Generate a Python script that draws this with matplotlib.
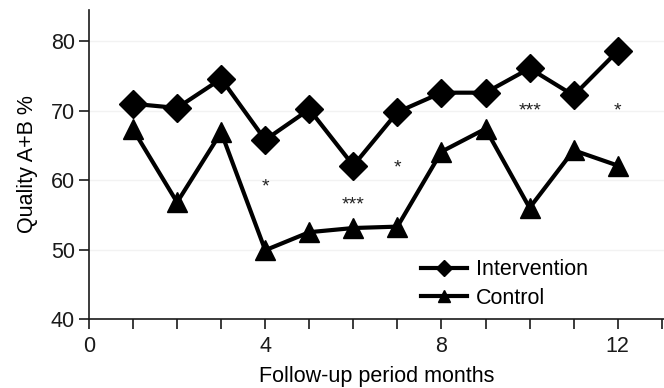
import numpy as np
import matplotlib
matplotlib.use("Agg")
import matplotlib.pyplot as plt

plt.rcParams['font.family'] = ['Liberation Sans', 'DejaVu Sans']

months = [1, 2, 3, 4, 5, 6, 7, 8, 9, 10, 11, 12]
intervention = [71.0, 70.4, 74.6, 65.8, 70.2, 62.1, 69.8, 72.6, 72.6, 76.1, 72.2, 78.6]
control = [67.3, 56.8, 66.9, 49.9, 52.5, 53.1, 53.3, 64.1, 67.4, 56.0, 64.3, 62.1]

sig_x = [4, 6, 7, 10, 12]
sig_y = [59.0, 56.4, 61.8, 69.9, 69.9]
sig_text = ['*', '***', '*', '***', '*']

x_ticks = list(range(0, 14))
x_labels = ['0', '', '', '', '4', '', '', '', '8', '', '', '', '12', '']
y_ticks = [40, 50, 60, 70, 80]


def main():
    fig = plt.figure(figsize=(6.64, 3.88), dpi=100)
    ax = fig.add_axes([0.134, 0.178, 0.866, 0.796])

    for yv in [50, 60, 70, 80]:
        ax.axhline(yv, color='#f2f2f2', linewidth=1.0, zorder=0)

    ax.plot(months, intervention, color='black', linewidth=3, marker='D',
            markersize=14, label='Intervention', zorder=3)
    ax.plot(months, control, color='black', linewidth=3, marker='^',
            markersize=15, label='Control', zorder=3)

    for xv, yv, s in zip(sig_x, sig_y, sig_text):
        ax.text(xv, yv, s, ha='center', va='center', fontsize=14, color='#222222')

    ax.set_xlim(0, 13.05)
    ax.set_ylim(40, 84.5)
    ax.set_xticks(x_ticks)
    ax.set_xticklabels(x_labels)
    ax.set_yticks(y_ticks)
    ax.tick_params(axis='both', direction='out', length=7, width=1.2,
                   labelsize=15.5, colors='#1a1a1a')
    ax.tick_params(axis='x', pad=5)
    ax.tick_params(axis='y', pad=3)
    for side in ['top', 'right']:
        ax.spines[side].set_visible(False)
    for side in ['left', 'bottom']:
        ax.spines[side].set_linewidth(1.2)
        ax.spines[side].set_color('#1a1a1a')

    ax.set_xlabel('Follow-up period months', fontsize=15.5, labelpad=7)
    ax.set_ylabel('Quality A+B %', fontsize=15.5, labelpad=9)

    ax.legend(loc='lower right', bbox_to_anchor=(0.902, -0.03), frameon=False,
              fontsize=15.5, handlelength=2.1, markerscale=0.6,
              labelspacing=0.35, handletextpad=0.45)

    fig.savefig('out.png', dpi=100)


if __name__ == '__main__':
    main()
